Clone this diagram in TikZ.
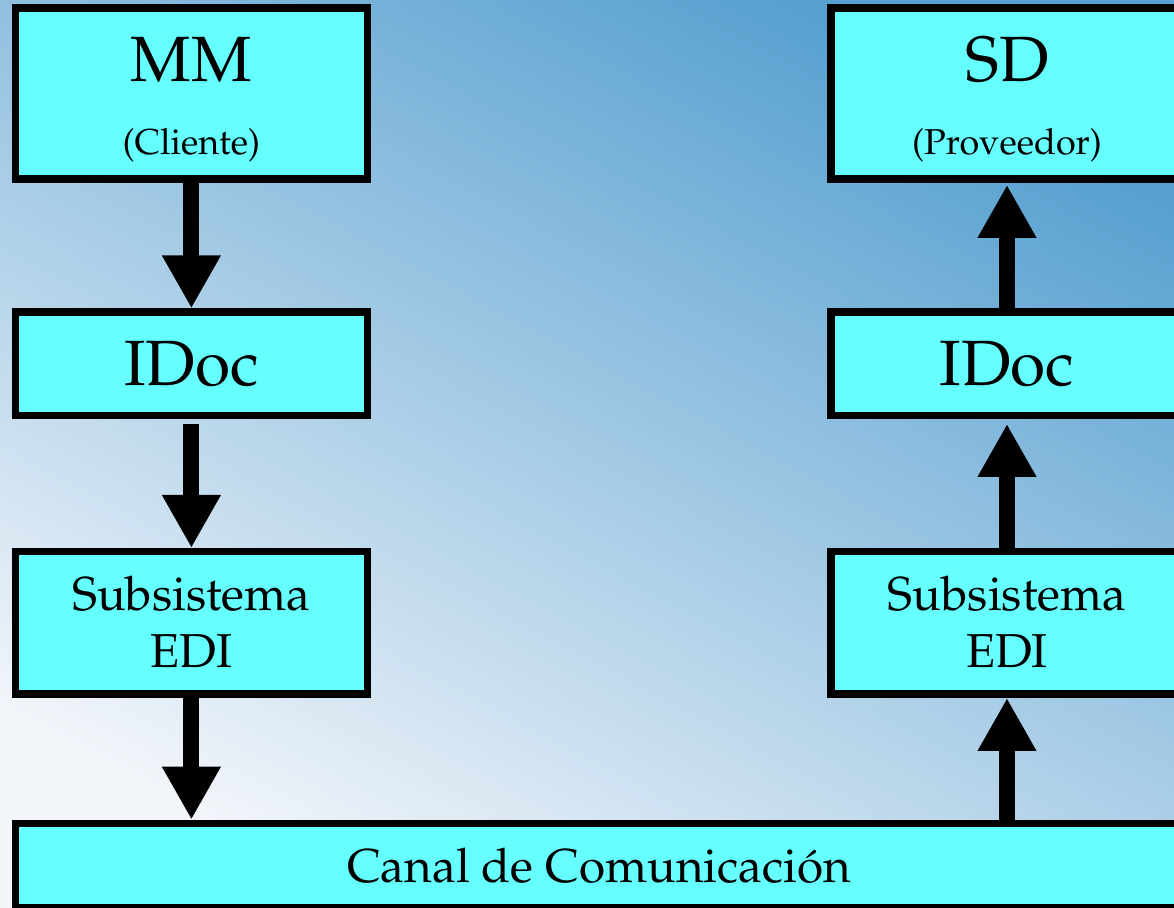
\documentclass[tikz,border=0pt]{standalone}
\usepackage[T1]{fontenc}
\usepackage{mathpazo}
\usetikzlibrary{arrows.meta}
\definecolor{boxcyan}{RGB}{102,255,255}
\definecolor{bgtop}{RGB}{86,160,208}
\definecolor{bgmid}{RGB}{182,210,231}
\definecolor{bgbot}{RGB}{242,245,250}

\begin{document}
\begin{tikzpicture}[x=0.5pt, y=-0.5pt,
    stagebox/.style={draw=black, fill=boxcyan, line width=3.75pt, minimum width=175.85pt,
        align=center, inner sep=0pt, text depth=0pt},
    flow/.style={line width=8pt, -{Triangle[width=27.5pt, length=26.5pt]}}]
            \clip (0,0) rectangle (1174,908);
            \shade[top color=bgtop, middle color=bgmid, bottom color=bgbot, shading angle=-28] (0,0) rectangle (1174,908);
            % left column (Cliente)
            \node[stagebox, minimum height=85.5pt, text height=61.7pt, font=\fontsize{32}{36.75}\selectfont] (mm) at (191.4, 93.3) {MM\\{\fontsize{18}{21}\selectfont (Cliente)}};
            \node[stagebox, minimum height=51.65pt, text height=21.9pt, font=\fontsize{32}{36}\selectfont] (idocL) at (191.4, 363.8) {IDoc};
            \node[stagebox, minimum height=71.25pt, text height=44.7pt, font=\fontsize{23.8}{28.75}\selectfont] (subL) at (191.4, 623) {Subsistema\\EDI};
            % right column (Proveedor)
            \node[stagebox, minimum height=85.5pt, text height=61.7pt, font=\fontsize{32}{36.75}\selectfont] (sd) at (1007, 93.3) {SD\\{\fontsize{18}{21}\selectfont (Proveedor)}};
            \node[stagebox, minimum height=51.65pt, text height=21.9pt, font=\fontsize{32}{36}\selectfont] (idocR) at (1007, 363.8) {IDoc};
            \node[stagebox, minimum height=71.25pt, text height=44.7pt, font=\fontsize{23.8}{28.75}\selectfont] (subR) at (1007, 623) {Subsistema\\EDI};
            % channel
            \node[stagebox, minimum width=583.75pt, minimum height=42.15pt, text height=16.9pt, font=\fontsize{23.8}{28}\selectfont] (canal) at (599.2, 865.6) {Canal de Comunicaci\'on};
            \draw[flow] (mm) -- (idocL);
            \draw[flow, shorten <=2.35pt] (idocL) -- (subL);
            \draw[flow] (subL) -- (subL |- canal.north);
            \draw[flow] (subR |- canal.north) -- (subR);
            \draw[flow, shorten >=2.35pt] (subR) -- (idocR);
            \draw[flow, shorten >=1.15pt] (idocR) -- (sd);
        \end{tikzpicture}
\end{document}
